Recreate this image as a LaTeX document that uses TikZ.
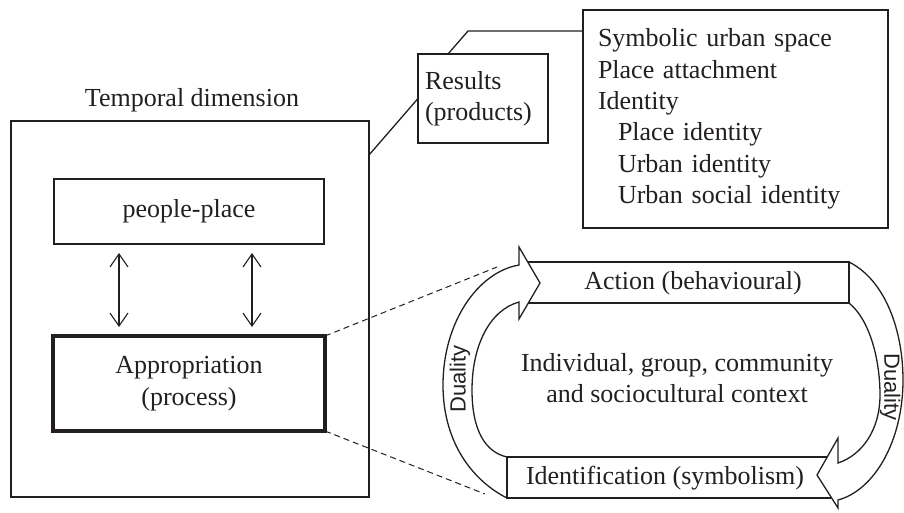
\documentclass[tikz,border=0pt]{standalone}
\usepackage{fontspec}
\setmainfont{Liberation Serif}
\newfontfamily\dualfont{Liberation Sans}
\usetikzlibrary{arrows.meta}
\definecolor{ink}{HTML}{231F20}
\begin{document}
\begin{tikzpicture}[x=1pt,y=-1pt,
  every node/.style={outer sep=0pt, text=ink},
  txt/.style={font=\fontsize{26}{31.4}\selectfont},
  thinbox/.style={draw=ink, line width=1.3pt, fill=white},
  band/.style={draw=ink, line width=1.3pt, line join=miter},
  dashline/.style={draw=ink, line width=1pt, dash pattern=on 6pt off 4pt},
  dbl/.style={draw=ink, line width=1.1pt, {Straight Barb[length=13pt,width=18pt]}-{Straight Barb[length=13pt,width=18pt]}},
  dualtxt/.style={font=\dualfont\fontsize{22}{25}\selectfont, inner sep=1pt}
]
\useasboundingbox (0,0) rectangle (904,512);

% left part
\node[thinbox, line width=2.6pt, minimum width=358pt, minimum height=376pt] (frame) at (190,309) {};
\node[txt] (temporal) at (192,100) {Temporal dimension};
\node[thinbox, txt, minimum width=270pt, minimum height=65pt] (pp) at (189,211.5) {people-place};
\node[thinbox, txt, line width=4.2pt, minimum width=272pt, minimum height=95pt, align=center] (app) at (189,383.5) {Appropriation\\(process)};
\draw[dbl] ([xshift=-70pt,yshift=-9pt]pp.south) -- ([xshift=-70pt,yshift=9pt]app.north);
\draw[dbl] ([xshift=63pt,yshift=-9pt]pp.south) -- ([xshift=63pt,yshift=9pt]app.north);

% results
\node[thinbox, txt, minimum width=130pt, minimum height=89pt, text width=116pt, inner xsep=7pt, align=left] (res) at (483,98.5) {Results\\(products)};
\node[thinbox, txt, minimum width=305pt, minimum height=218pt, text width=275pt, inner xsep=15pt, align=left] (list) at (735.5,119) {Symbolic urban space\\Place attachment\\Identity\\\hspace*{20pt}Place identity\\\hspace*{20pt}Urban identity\\\hspace*{20pt}Urban social identity};
\draw[band] (res.west) -- ([yshift=-34pt]frame.north east);
\draw[band] ([xshift=-35pt]res.north) -- ++(20,-23) -- ([yshift=88pt]list.west);

% dashed
\coordinate (dU) at (497,267);
\coordinate (dL) at (485,494);
\draw[dashline] (app.north east) -- (dU);
\draw[dashline] (app.south east) -- (dL);

% cycle
\draw[band] (507,498) .. controls (475,482) and (443,445) .. (443,385) .. controls (443,322) and (478,272) .. (519,265) -- (519,247) -- (540,283) -- (519,319) -- (519,302) .. controls (490,310) and (472,345) .. (472,390) .. controls (472,430) and (485,452) .. (507,457);
\draw[band] (527.8,262) -- (849,262) -- (849,303) -- (528.3,303);
\draw[band] (849,262) .. controls (885,280) and (903,330) .. (903,380) .. controls (903,440) and (875,490) .. (838,500) -- (838,508) -- (817,475) -- (838,438) -- (838,463) .. controls (862,455) and (880,430) .. (880,395) .. controls (880,360) and (870,320) .. (849,303);
\draw[band] (827,457) -- (507,457) -- (507,498) -- (831,498);

\node[txt] (action) at (693,283) {Action (behavioural)};
\node[txt] (ident) at (665,478) {Identification (symbolism)};
\node[txt, align=center] (ctx) at (677,378) {Individual, group, community\\and sociocultural context};
\node[dualtxt, rotate=90] (dual1) at (460,379) {Duality};
\node[dualtxt, rotate=-90] (dual2) at (890,387) {Duality};
\end{tikzpicture}
\end{document}
